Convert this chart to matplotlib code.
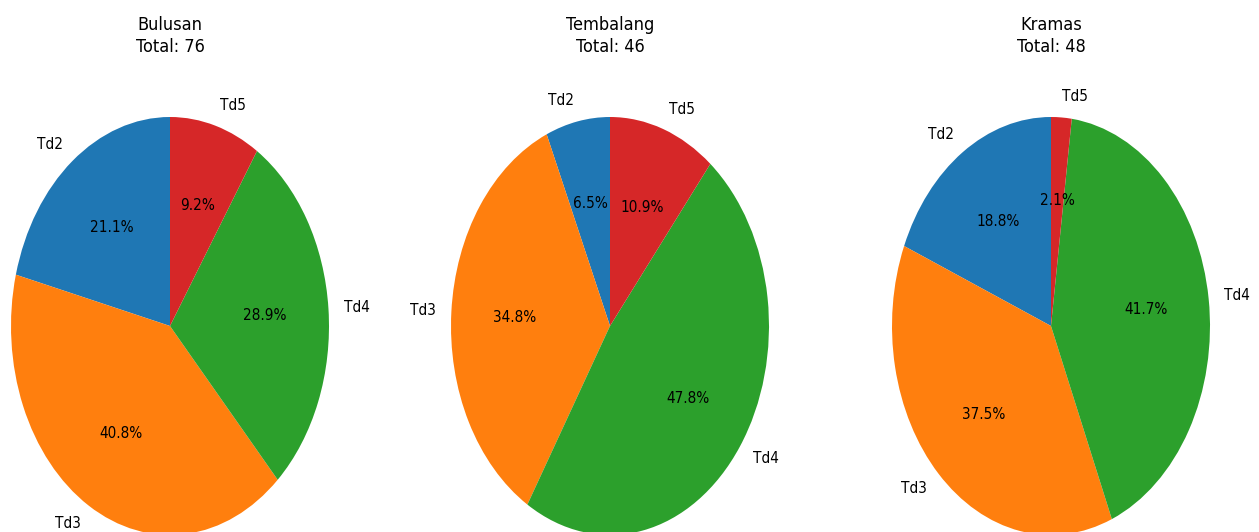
import matplotlib
matplotlib.use("Agg")
import matplotlib.pyplot as plt

plt.rcParams['font.family'] = ['DejaVu Sans']
plt.rcParams['font.stretch'] = 'condensed'

# Data
labels = ["Td2", "Td3", "Td4", "Td5"]
locations = ["Bulusan", "Tembalang", "Kramas"]
bulusan = [16, 31, 22, 7]
tembalang = [3, 16, 22, 5]
kramas = [9, 18, 20, 1]
colors = ["#1f77b4", "#ff7f0e", "#2ca02c", "#d62728"]

W, H = 1259, 532
fig = plt.figure(figsize=(W / 100, H / 100), dpi=100)

centers_x = [170, 610, 1051]
center_y = 326   # from top, px
rx, ry = 159, 209

for name, counts, cx in zip(locations, [bulusan, tembalang, kramas], centers_x):
    w = 2.5 * rx
    h = 2.5 * ry
    left = (cx - w / 2) / W
    bottom = (H - center_y - h / 2) / H
    ax = fig.add_axes([left, bottom, w / W, h / H])
    ax.pie(counts, labels=labels, colors=colors, autopct='%1.1f%%',
           startangle=90, textprops={'fontsize': 11})
    ax.set_aspect('auto')
    ax.set_xlim(-1.25, 1.25)
    ax.set_ylim(-1.25, 1.25)
    fig.text(cx / W, 1 - 36 / H, f"{name}\nTotal: {sum(counts)}",
             ha='center', va='center', fontsize=13, linespacing=1.3)

plt.savefig("out.png", dpi=100)
plt.close()
